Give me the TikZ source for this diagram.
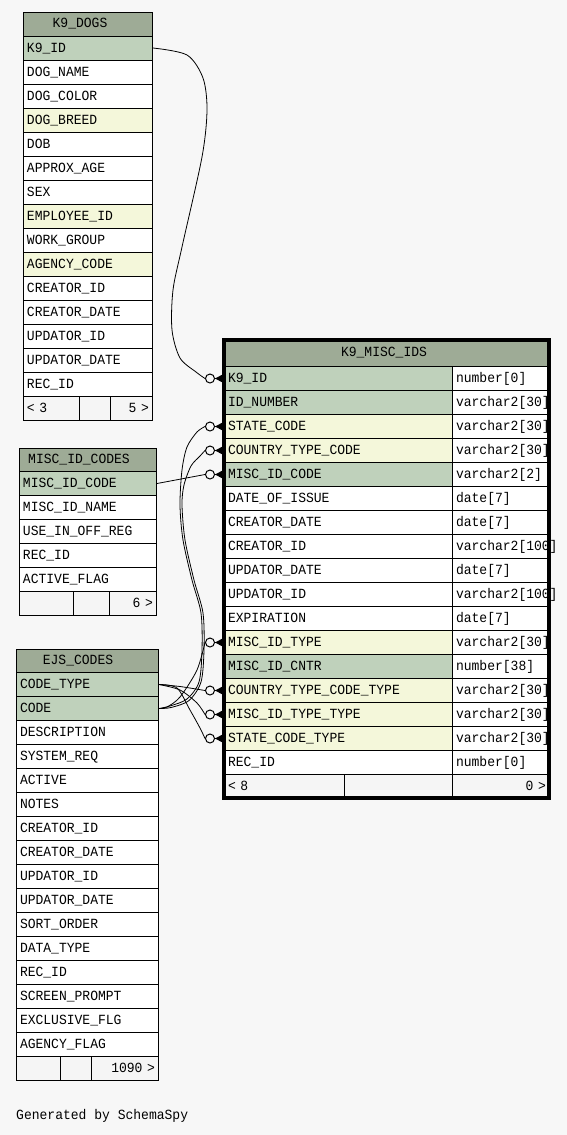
\documentclass[tikz,border=0pt]{standalone}
\usepackage{fontspec}
\usetikzlibrary{calc}
\newfontfamily\schemafont[FakeStretch=0.93]{Liberation Mono}
\newcommand\dbfont{\schemafont\fontsize{14}{16}\selectfont}
\definecolor{bgc}{HTML}{F7F7F7}
\definecolor{titlec}{HTML}{9EAB96}
\definecolor{pkc}{HTML}{BFD1BB}
\definecolor{fkc}{HTML}{F4F7DA}
\definecolor{wc}{HTML}{FFFFFF}
\definecolor{footc}{HTML}{F5F5F5}
\begin{document}
\begin{tikzpicture}[x=1pt,y=-1pt,
  every node/.style={font=\dbfont},
  cell/.style={draw=black, line width=1pt, rectangle, anchor=north west,
    minimum height=24pt, inner xsep=3.5pt, inner ysep=0pt,
    text height=10pt, text depth=2pt, align=left},
  tbox/.style={draw=black, line width=1pt, rectangle, anchor=north west,
    fill=titlec, minimum height=23.5pt, inner sep=0pt},
  foot/.style={draw=black, line width=1pt, rectangle, anchor=north west, fill=footc,
    minimum height=24pt, inner xsep=3.5pt, inner ysep=0pt,
    text height=10pt, text depth=2pt},
  ringc/.style={circle, draw=black, line width=1pt, fill=bgc, inner sep=0pt, minimum size=9pt},
  link/.style={draw=black, line width=0.8pt},
]
\useasboundingbox (0,0) rectangle (567,1135);
\fill[bgc] (0,0) rectangle (567,1135);

% ---------- K9_DOGS ----------
\node[tbox, minimum width=129pt] (dogs) at (23,12) {};
\node[inner sep=0pt] (dogs-t) at (80,23.75) {K9\_DOGS};
\foreach \t/\f [count=\i] in {K9\_ID/pkc, DOG\_NAME/wc, DOG\_COLOR/wc, DOG\_BREED/fkc,
  DOB/wc, APPROX\_AGE/wc, SEX/wc, EMPLOYEE\_ID/fkc, WORK\_GROUP/wc, AGENCY\_CODE/fkc,
  CREATOR\_ID/wc, CREATOR\_DATE/wc, UPDATOR\_ID/wc, UPDATOR\_DATE/wc, REC\_ID/wc}
  {\node[cell, fill=\f, text width=122pt] (dogs-\i) at (23,{35.5+24*(\i-1)}) {\t};}
\node[foot, text width=49pt, align=left] (dogs-fa) at (23,395.5) {< 3};
\node[foot, minimum width=31pt] (dogs-fb) at (79,395.5) {};
\node[foot, text width=35pt, align=right] (dogs-fc) at (110,395.5) {5 >};

% ---------- MISC_ID_CODES ----------
\node[tbox, minimum width=137pt] (codes) at (19,447.5) {};
\node[inner sep=0pt] (codes-t) at (79,459.25) {MISC\_ID\_CODES};
\foreach \t/\f [count=\i] in {MISC\_ID\_CODE/pkc, MISC\_ID\_NAME/wc, USE\_IN\_OFF\_REG/wc,
  REC\_ID/wc, ACTIVE\_FLAG/wc}
  {\node[cell, fill=\f, text width=130pt] (codes-\i) at (19,{471+24*(\i-1)}) {\t};}
\node[foot, minimum width=54pt] (codes-fa) at (19,591) {};
\node[foot, minimum width=36pt] (codes-fb) at (73,591) {};
\node[foot, text width=40pt, align=right] (codes-fc) at (109,591) {6 >};

% ---------- EJS_CODES ----------
\node[tbox, minimum width=142pt] (ejs) at (16,648.5) {};
\node[inner sep=0pt] (ejs-t) at (78,660.25) {EJS\_CODES};
\foreach \t/\f [count=\i] in {CODE\_TYPE/pkc, CODE/pkc, DESCRIPTION/wc, SYSTEM\_REQ/wc,
  ACTIVE/wc, NOTES/wc, CREATOR\_ID/wc, CREATOR\_DATE/wc, UPDATOR\_ID/wc, UPDATOR\_DATE/wc,
  SORT\_ORDER/wc, DATA\_TYPE/wc, REC\_ID/wc, SCREEN\_PROMPT/wc, EXCLUSIVE\_FLG/wc, AGENCY\_FLAG/wc}
  {\node[cell, fill=\f, text width=135pt] (ejs-\i) at (16,{672+24*(\i-1)}) {\t};}
\node[foot, minimum width=44pt] (ejs-fa) at (16,1056) {};
\node[foot, minimum width=31pt] (ejs-fb) at (60,1056) {};
\node[foot, text width=60pt, align=right] (ejs-fc) at (91,1056) {1090 >};

% ---------- K9_MISC_IDS ----------
\node[tbox, minimum width=325pt, minimum height=25.5pt] (mis) at (224,340) {};
\node[inner sep=0pt] (mis-t) at (384,352.75) {K9\_MISC\_IDS};
\foreach \t/\ty/\f [count=\i] in {K9\_ID/number[0]/pkc, ID\_NUMBER/varchar2[30]/pkc,
  STATE\_CODE/varchar2[30]/fkc, COUNTRY\_TYPE\_CODE/varchar2[30]/fkc,
  MISC\_ID\_CODE/varchar2[2]/pkc, DATE\_OF\_ISSUE/date[7]/wc, CREATOR\_DATE/date[7]/wc,
  CREATOR\_ID/varchar2[100]/wc, UPDATOR\_DATE/date[7]/wc, UPDATOR\_ID/varchar2[100]/wc,
  EXPIRATION/date[7]/wc, MISC\_ID\_TYPE/varchar2[30]/fkc, MISC\_ID\_CNTR/number[38]/pkc,
  COUNTRY\_TYPE\_CODE\_TYPE/varchar2[30]/fkc, MISC\_ID\_TYPE\_TYPE/varchar2[30]/fkc,
  STATE\_CODE\_TYPE/varchar2[30]/fkc, REC\_ID/number[0]/wc}
  {\node[cell, fill=\f, text width=221pt] (m\i) at (224,{365.5+24*(\i-1)}) {\t};
   \node[cell, fill=wc, text width=90pt] (m\i-ty) at (452,{365.5+24*(\i-1)}) {\ty};}
\node[foot, text width=113pt, align=left] (mis-fa) at (224,773.5) {< 8};
\node[foot, minimum width=108pt] (mis-fb) at (344,773.5) {};
\node[foot, text width=90pt, align=right] (mis-fc) at (452,773.5) {0 >};
\draw[line width=4pt] (mis.north west) rectangle (548.8,797.5);

% ---------- ring positions ----------
\foreach \i in {1,3,4,5,12,14,15,16}{
  \coordinate (m\i-cw) at ($(m\i.west)+(-19,0.5)$);
}

% ---------- connectors ----------
\draw[link] plot[smooth, tension=0.5] coordinates {(dogs-1.east) (187,55) (203,78) (207,110)
  (202,157) (182,247) (173,290) (172,330) (180,358) (196,372) (m1-cw)};
\draw[link] (codes-1.east) -- (m5-cw);
\draw[link] plot[smooth, tension=0.5] coordinates {(ejs-2.east) (170,706) (187,699) (199,682)
  (202,650) (201,613) (192,580) (183,540) (180,505) (182,470) (187,447) (197,432) (m3-cw)};
\draw[link] plot[smooth, tension=0.5] coordinates {(ejs-2.east) (171,707.5) (189,700.5) (201,682)
  (204,650) (203,613) (194,580) (185,540) (182,505) (184,485) (191,466) (200,456) (m4-cw)};
\draw[link] plot[smooth, tension=0.5] coordinates {(ejs-2.east) (167,707) (180,697) (197,670) (m12-cw)};
\draw[link] plot[smooth, tension=0.5] coordinates {(ejs-1.east) (180,686.5) (m14-cw)};
\draw[link] plot[smooth, tension=0.5] coordinates {(ejs-1.east) (180,690) (197,703) (m15-cw)};
\draw[link] plot[smooth, tension=0.5] coordinates {(ejs-1.east) (177,688) (190,710) (200,728) (m16-cw)};

% ---------- relationship ends (circle + crow's foot) ----------
\foreach \i in {1,3,4,5,12,14,15,16}{
  \node[ringc, anchor=west] (m\i-c) at (m\i-cw) {};
  \draw[line width=1pt] (m\i-c.east) -- ++(8,0);
  \fill (m\i-c.east) -- ++(8.5,-4.5) -- ++(0,9) -- cycle;
}

% ---------- footer text ----------
\node[anchor=west, inner sep=0pt] (gen) at (16,1116) {Generated by SchemaSpy};
\end{tikzpicture}
\end{document}
